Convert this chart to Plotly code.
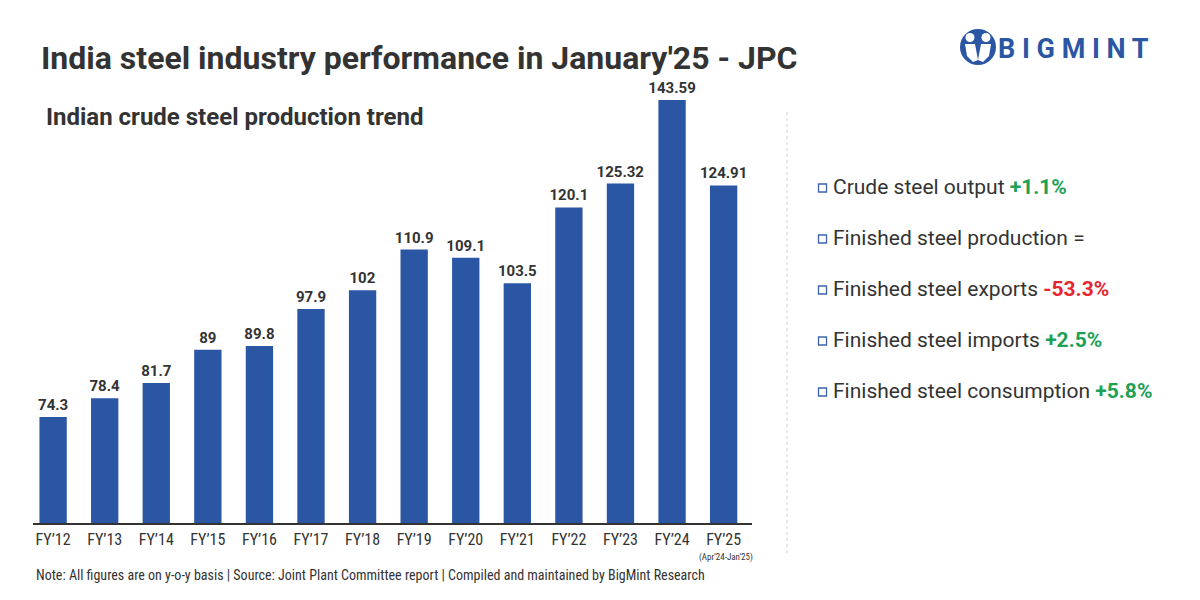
import plotly.graph_objects as go

# ---------------- data ----------------
categories = ["FY’12", "FY’13", "FY’14", "FY’15", "FY’16", "FY’17", "FY’18",
              "FY’19", "FY’20", "FY’21", "FY’22", "FY’23", "FY’24", "FY’25"]
production = [74.3, 78.4, 81.7, 89, 89.8, 97.9, 102, 110.9, 109.1, 103.5,
              120.1, 125.32, 143.59, 124.91]
value_labels = ["74.3", "78.4", "81.7", "89", "89.8", "97.9", "102", "110.9",
                "109.1", "103.5", "120.1", "125.32", "143.59", "124.91"]
indicators = ["Crude steel output", "Finished steel production",
              "Finished steel exports", "Finished steel imports",
              "Finished steel consumption"]
changes = ["+1.1%", "=", "-53.3%", "+2.5%", "+5.8%"]

W, H = 1200, 600
def px(x):
    return x / W
def py(y):
    return 1 - y / H

BLUE = "#2A56A4"
DARK = "#333333"
GREEN = "#1DA156"
RED = "#E5262E"
NARROW = "Liberation Sans Narrow, Roboto Condensed, Arial Narrow, Roboto, sans-serif"
SANS = "Roboto, Inter, sans-serif"

fig = go.Figure()
fig.add_trace(go.Bar(
    x=categories, y=production, text=value_labels,
    texttemplate="<b>%{text}</b>", textposition="outside",
    constraintext="none",
    textfont=dict(size=15, color=DARK, family=SANS),
    marker=dict(color=BLUE, line=dict(width=0)),
    width=0.53, cliponaxis=True, hoverinfo="skip",
))

fig.update_layout(
    width=W, height=H,
    margin=dict(l=0, r=0, t=0, b=0),
    paper_bgcolor="white", plot_bgcolor="white",
    showlegend=False,
    xaxis=dict(
        type="category", domain=[px(33), px(752)], range=[-0.39, 13.55],
        showline=True, linecolor=DARK, linewidth=2, ticks="",
        showgrid=False, zeroline=False,
        tickfont=dict(size=16, color=DARK, family=NARROW),
        ticklabelstandoff=1, anchor="y",
    ),
    yaxis=dict(
        domain=[py(523), py(70)], range=[51.11, 150.15],
        visible=False, showgrid=False, zeroline=False,
    ),
)

ann = []
shapes = []

# Title and subtitle
ann.append(dict(text="<b>India steel industry performance in January'25 - JPC</b>",
                x=px(39), y=py(58), xref="paper", yref="paper",
                xanchor="left", yanchor="middle", showarrow=False,
                font=dict(size=32, color=DARK, family=SANS)))
ann.append(dict(text="<b>Indian crude steel production trend</b>",
                x=px(44), y=py(117), xref="paper", yref="paper",
                xanchor="left", yanchor="middle", showarrow=False,
                font=dict(size=24, color=DARK, family=SANS)))

# Note and sub-label
ann.append(dict(text="Note: All figures are on y-o-y basis | Source: Joint Plant Committee report | Compiled and maintained by BigMint Research",
                x=px(34), y=py(575), xref="paper", yref="paper",
                xanchor="left", yanchor="middle", showarrow=False,
                font=dict(size=14, color=DARK, family=NARROW)))
ann.append(dict(text="(Apr'24-Jan'25)",
                x=px(755), y=py(557), xref="paper", yref="paper",
                xanchor="right", yanchor="middle", showarrow=False,
                font=dict(size=9, color=DARK, family=NARROW)))

# Right-side bullets
for i, (name, ch) in enumerate(zip(indicators, changes)):
    cy = 187 + i * 51
    if ch.startswith("+"):
        txt = f"{name} <b><span style='color:{GREEN}'>{ch}</span></b>"
    elif ch.startswith("-"):
        txt = f"{name} <b><span style='color:{RED}'>{ch}</span></b>"
    else:
        txt = f"{name} {ch}"
    ann.append(dict(text=txt, x=px(831), y=py(cy), xref="paper", yref="paper",
                    xanchor="left", yanchor="middle", showarrow=False,
                    font=dict(size=21, color=DARK, family=SANS)))
    shapes.append(dict(type="rect", xref="paper", yref="paper",
                       x0=px(818.5), x1=px(826.5), y0=py(cy - 3), y1=py(cy + 5),
                       line=dict(color="#3D63AE", width=1.3), fillcolor="white"))

# Dotted separator
shapes.append(dict(type="line", xref="paper", yref="paper",
                   x0=px(787), x1=px(787), y0=py(112), y1=py(556),
                   line=dict(color="#D0D0D0", width=1, dash="dot")))

# Logo
shapes.append(dict(type="circle", xref="paper", yref="paper",
                   x0=px(960), x1=px(996), y0=py(29), y1=py(65),
                   fillcolor=BLUE, line=dict(width=0)))
for hx in (970, 986):
    shapes.append(dict(type="circle", xref="paper", yref="paper",
                       x0=px(hx - 4.5), x1=px(hx + 4.5), y0=py(33), y1=py(42),
                       fillcolor="white", line=dict(width=0)))
def pth(pts):
    return "M " + " L ".join(f"{px(a)},{py(b)}" for a, b in pts) + " Z"
shapes.append(dict(type="path", xref="paper", yref="paper",
                   path=pth([(965, 44), (975, 44), (978, 60), (973, 62), (967, 56)]),
                   fillcolor="white", line=dict(width=0)))
shapes.append(dict(type="path", xref="paper", yref="paper",
                   path=pth([(981, 44), (991, 44), (989, 56), (983, 62), (978, 60)]),
                   fillcolor="white", line=dict(width=0)))
shapes.append(dict(type="circle", xref="paper", yref="paper",
                   x0=px(975.5), x1=px(980.5), y0=py(40), y1=py(45),
                   fillcolor=BLUE, line=dict(width=0)))
ann.append(dict(text="<b>B I G M I N T</b>", x=px(996), y=py(49),
                xref="paper", yref="paper", xanchor="left", yanchor="middle",
                showarrow=False, font=dict(size=27, color=BLUE, family=SANS)))

fig.update_layout(annotations=ann, shapes=shapes)
fig.write_html("out.html", config={"displayModeBar": False},
               post_script="document.body.style.margin='0';document.body.style.overflow='hidden';")
